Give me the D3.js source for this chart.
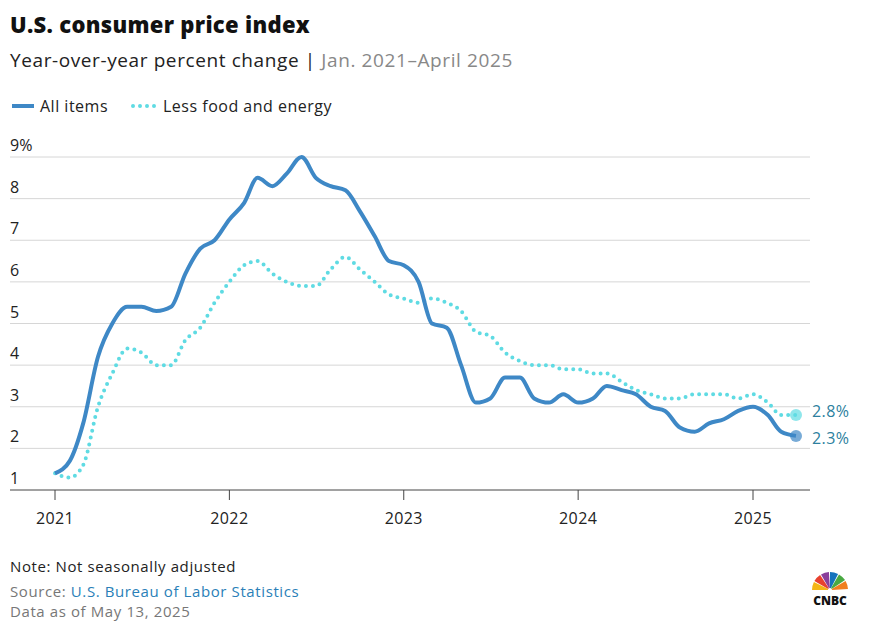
<!DOCTYPE html>
<html><head><meta charset="utf-8">
<script src="https://cdn.jsdelivr.net/npm/d3@7"></script>
<style>body{margin:0;background:#fff;font-family:"Open Sans",sans-serif;}</style>
</head><body><svg id="chart" width="878" height="630"></svg>
<script>
const allItems = [1.4,1.7,2.6,4.2,5.0,5.4,5.4,5.3,5.4,6.2,6.8,7.0,
  7.5,7.9,8.5,8.3,8.6,9.0,8.5,8.3,8.2,7.7,7.1,6.5,
  6.4,6.0,5.0,4.9,4.0,3.1,3.2,3.7,3.7,3.2,3.1,3.3,
  3.1,3.2,3.5,3.4,3.3,3.0,2.9,2.5,2.4,2.6,2.7,2.9,
  3.0,2.8,2.4,2.3];
const core = [1.4,1.3,1.6,3.0,3.8,4.4,4.3,4.0,4.0,4.6,4.9,5.5,
  6.0,6.4,6.5,6.2,6.0,5.9,5.9,6.3,6.6,6.3,6.0,5.7,
  5.6,5.5,5.6,5.5,5.3,4.8,4.7,4.3,4.1,4.0,4.0,3.9,
  3.9,3.8,3.8,3.6,3.4,3.3,3.2,3.2,3.3,3.3,3.3,3.2,
  3.3,3.1,2.8,2.8];
const yTicks = [1,2,3,4,5,6,7,8,9];
const years = [2021,2022,2023,2024,2025];
const dates = allItems.map((_, i) => new Date(2021, i, 1));

const blue = "#3e88c6", cyan = "#5fdbe3", teal = "#2d7f9e";
const svg = d3.select("#chart");
const x = d3.scaleTime().domain([new Date(2021,0,1), new Date(2025,0,1)]).range([55, 753]);
const y = d3.scaleLinear().domain([1, 9]).range([490, 157]);

svg.append("text").attr("x",10).attr("y",33).attr("font-size",22).attr("font-weight",800).attr("fill","#111")
  .attr("letter-spacing",0.3).text("U.S. consumer price index");
const sub = svg.append("text").attr("x",10).attr("y",67).attr("font-size",19).attr("fill","#222").attr("letter-spacing",0.6);
sub.append("tspan").text("Year-over-year percent change | ");
sub.append("tspan").attr("fill","#888").text("Jan. 2021–April 2025");

// legend
svg.append("line").attr("x1",12).attr("x2",34).attr("y1",106).attr("y2",106).attr("stroke",blue).attr("stroke-width",4);
svg.append("text").attr("x",40).attr("y",112).attr("font-size",16).attr("fill","#222").attr("letter-spacing",0.5).text("All items");
svg.append("line").attr("x1",133).attr("x2",158).attr("y1",106).attr("y2",106).attr("stroke",cyan).attr("stroke-width",4)
  .attr("stroke-linecap","round").attr("stroke-dasharray","0,7");
svg.append("text").attr("x",163).attr("y",112).attr("font-size",16).attr("fill","#222").attr("letter-spacing",0.5).text("Less food and energy");

// grid
const g = svg.append("g");
g.selectAll("line.grid").data(yTicks).join("line")
  .attr("x1",10).attr("x2",810).attr("y1",d=>y(d)).attr("y2",d=>y(d))
  .attr("stroke",d=>d===1?"#444":"#d6d6d6").attr("stroke-width",1);
g.selectAll("text.yl").data(yTicks).join("text")
  .attr("x",10).attr("y",d=>y(d)-6).attr("font-size",16).attr("fill","#222")
  .text(d=>d===9?"9%":d);
g.selectAll("line.tk").data(years).join("line")
  .attr("x1",d=>x(new Date(d,0,1))).attr("x2",d=>x(new Date(d,0,1)))
  .attr("y1",490).attr("y2",500).attr("stroke","#444");
g.selectAll("text.xl").data(years).join("text")
  .attr("x",d=>x(new Date(d,0,1))).attr("y",524).attr("text-anchor","middle")
  .attr("font-size",16).attr("fill","#222").attr("letter-spacing",0.4).text(d=>d);

const line = d3.line().curve(d3.curveMonotoneX).x((d,i)=>x(dates[i])).y(d=>y(d));
svg.append("path").datum(core).attr("d",line).attr("fill","none").attr("stroke",cyan)
  .attr("stroke-width",4).attr("stroke-linecap","round").attr("stroke-dasharray","0,7");
svg.append("path").datum(allItems).attr("d",line).attr("fill","none").attr("stroke",blue)
  .attr("stroke-width",4).attr("stroke-linejoin","round");

const last = dates.length-1;
svg.append("circle").attr("cx",x(dates[last])).attr("cy",y(core[last])).attr("r",6).attr("fill",cyan).attr("opacity",0.7);
svg.append("circle").attr("cx",x(dates[last])).attr("cy",y(allItems[last])).attr("r",6).attr("fill",blue).attr("opacity",0.7);
svg.append("text").attr("x",812).attr("y",y(core[last])+2).attr("font-size",16).attr("fill",teal).attr("letter-spacing",0.4).text(core[last]+"%");
svg.append("text").attr("x",812).attr("y",y(allItems[last])+8).attr("font-size",16).attr("fill",teal).attr("letter-spacing",0.4).text(allItems[last]+"%");

// footer
svg.append("text").attr("x",10).attr("y",572).attr("font-size",15).attr("fill","#222").attr("letter-spacing",0.6).text("Note: Not seasonally adjusted");
const src = svg.append("text").attr("x",10).attr("y",597).attr("font-size",15).attr("fill","#777").attr("letter-spacing",0.6);
src.append("tspan").text("Source: ");
src.append("tspan").attr("fill","#2a7fb8").text("U.S. Bureau of Labor Statistics");
svg.append("text").attr("x",10).attr("y",617).attr("font-size",15).attr("fill","#777").attr("letter-spacing",0.6).text("Data as of May 13, 2025");

// CNBC logo
const lg = svg.append("g").attr("transform","translate(830,590)");
const feathers = ["#f4b516","#e8412f","#8a3f9b","#1473bd","#49a942","#f07f1f"];
const arc = d3.arc().innerRadius(2).outerRadius(18);
feathers.forEach((c,i)=>{
  const a0 = -Math.PI/2 + i*Math.PI/6, a1 = a0 + Math.PI/6 - 0.06;
  lg.append("path").attr("d",arc({startAngle:a0,endAngle:a1})).attr("fill",c);
});
lg.append("text").attr("y",15).attr("text-anchor","middle").attr("font-size",12).attr("font-weight",900).attr("fill","#111").text("CNBC");
</script></body></html>
